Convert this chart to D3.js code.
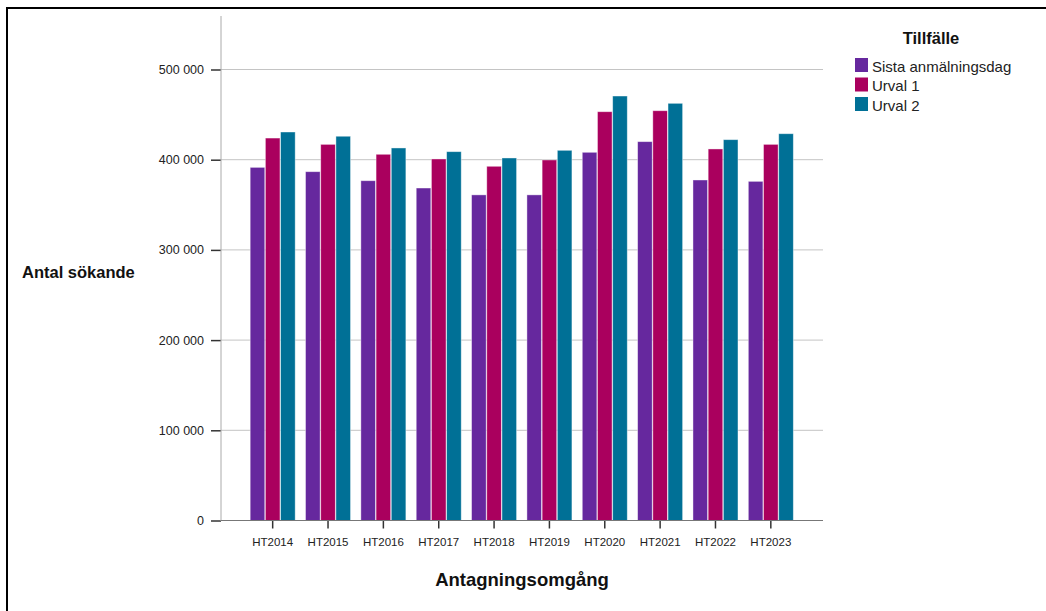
<!DOCTYPE html>
<html><head><meta charset="utf-8">
<script src="https://cdn.jsdelivr.net/npm/d3@7"></script>
<style>body{margin:0;background:#fff;}svg{display:block;font-family:"Liberation Sans",Arial,sans-serif;}</style>
</head><body>
<svg id="c" width="1046" height="611"></svg>
<script>
const categories = ["HT2014","HT2015","HT2016","HT2017","HT2018","HT2019","HT2020","HT2021","HT2022","HT2023"];
const seriesNames = ["Sista anmälningsdag","Urval 1","Urval 2"];
const sistaAnmalningsdag = [391500,386700,376700,368600,361000,361000,408200,420000,377500,376000];
const urval1 = [424000,417000,406000,400800,392700,399700,453200,454300,411900,417000];
const urval2 = [430700,426000,413000,408900,401900,410400,470600,462500,422200,428800];
const yTicks = [0,100000,200000,300000,400000,500000];
const colors = ["#66289e","#aa005e","#007096"];

const series = [sistaAnmalningsdag, urval1, urval2];
const svg = d3.select("#c");

// border (top & left visible)
svg.append("path").attr("d","M7,611 V8 H1046").attr("fill","none").attr("stroke","#000").attr("stroke-width",2);

const y = d3.scaleLinear().domain([0,500000]).range([520.5,69.5]);
const x = d3.scaleBand().domain(categories).range([245,798.5]).paddingInner(0).paddingOuter(0);
const xs = d3.scaleBand().domain(seriesNames).range([0,45]).paddingInner(0.04);

// gridlines
svg.append("g").selectAll("line").data(yTicks.filter(d=>d>0)).join("line")
  .attr("x1",221).attr("x2",823).attr("y1",d=>y(d)).attr("y2",d=>y(d))
  .attr("stroke","#c4c4c4").attr("stroke-width",1);

// bars
const gcat = svg.append("g").selectAll("g").data(categories).join("g")
  .attr("transform",c=>`translate(${x(c)+x.bandwidth()/2-22.5},0)`);
gcat.selectAll("rect").data((c,i)=>series.map((s,j)=>({k:seriesNames[j],v:s[i],j}))).join("rect")
  .attr("x",d=>xs(d.k)).attr("width",xs.bandwidth())
  .attr("y",d=>y(d.v)).attr("height",d=>y(0)-y(d.v))
  .attr("fill",d=>colors[d.j]).attr("stroke","#fff").attr("stroke-opacity",0.5).attr("stroke-width",0.8);

// y axis
const yAxis = d3.axisLeft(y).tickValues(yTicks).tickSize(10).tickPadding(7)
  .tickFormat(d=>d3.format(",")(d).replace(/,/g," "));
const ya = svg.append("g").attr("transform","translate(221,0)").call(yAxis);
ya.select(".domain").remove();
ya.selectAll(".tick line").attr("stroke","#333").attr("stroke-width",1.5);
ya.selectAll("text").attr("font-size",12.5).attr("fill","#222");
svg.append("line").attr("x1",221).attr("x2",221).attr("y1",16).attr("y2",521).attr("stroke","#aaa");

// x axis
const xAxis = d3.axisBottom(x).tickSize(8).tickPadding(9);
const xa = svg.append("g").attr("transform","translate(0,520.5)").call(xAxis);
xa.select(".domain").remove();
xa.selectAll(".tick line").attr("stroke","#333").attr("stroke-width",1.5);
xa.selectAll("text").attr("font-size",11.5).attr("fill","#222");
svg.append("line").attr("x1",221).attr("x2",823).attr("y1",520.5).attr("y2",520.5).attr("stroke","#777").attr("stroke-width",1.2);

// axis titles
svg.append("text").attr("x",22).attr("y",278).attr("font-size",16.5).attr("font-weight","bold").attr("fill","#111").text("Antal sökande");
svg.append("text").attr("x",522).attr("y",586).attr("text-anchor","middle").attr("font-size",18.5).attr("font-weight","bold").attr("fill","#111").text("Antagningsomgång");

// legend
svg.append("text").attr("x",931).attr("y",44).attr("text-anchor","middle").attr("font-size",16.5).attr("font-weight","bold").attr("fill","#111").text("Tillfälle");
const lg = svg.append("g").selectAll("g").data(seriesNames).join("g")
  .attr("transform",(d,i)=>`translate(855,${58+i*19.5})`);
lg.append("rect").attr("width",13).attr("height",14).attr("fill",(d,i)=>colors[i]);
lg.append("text").attr("x",17).attr("y",13.5).attr("font-size",15).attr("fill","#222").text(d=>d);
</script>
</body></html>
